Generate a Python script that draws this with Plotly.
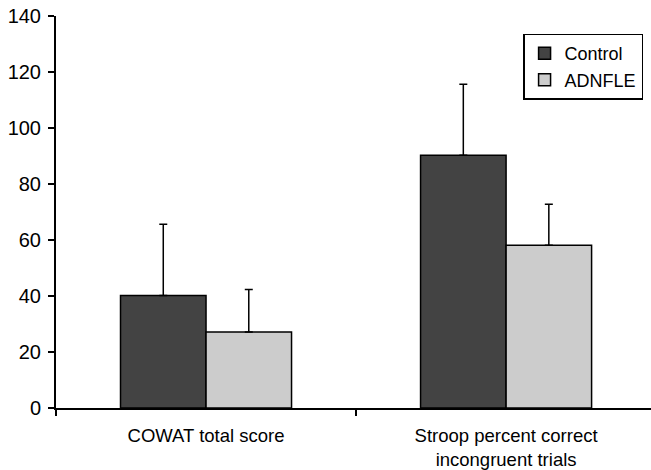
import plotly.graph_objects as go

categories = ["COWAT total score", "Stroop percent correct<br>incongruent trials"]
control_vals = [40.2, 90.3]
control_err = [25.4, 25.3]
adnfle_vals = [27.1, 58.1]
adnfle_err = [15.2, 14.7]
y_ticks = [0, 20, 40, 60, 80, 100, 120, 140]

fig = go.Figure()
fig.add_trace(go.Bar(
    name="Control", x=categories, y=control_vals,
    marker=dict(color="#434343", line=dict(color="black", width=1.5)),
    error_y=dict(type="data", array=control_err, arrayminus=[0, 0], symmetric=False,
                 color="black", thickness=1.5, width=4),
))
fig.add_trace(go.Bar(
    name="ADNFLE", x=categories, y=adnfle_vals,
    marker=dict(color="#cccccc", line=dict(color="black", width=1.5)),
    error_y=dict(type="data", array=adnfle_err, arrayminus=[0, 0], symmetric=False,
                 color="black", thickness=1.5, width=4),
))

fig.update_layout(
    width=651, height=470,
    margin=dict(l=56, r=0, t=16, b=62, autoexpand=False),
    paper_bgcolor="white", plot_bgcolor="white",
    barmode="group", bargap=0.43, bargroupgap=0,
    font=dict(family="Liberation Sans, Arial, sans-serif", color="black", size=19),
    showlegend=True,
    legend=dict(x=0.785, y=0.955, xanchor="left", yanchor="top",
                bgcolor="white", bordercolor="black", borderwidth=1.5,
                font=dict(size=18), tracegroupgap=0, itemwidth=30),
)
fig.update_xaxes(
    range=[-0.5, 1.483], showline=True, linecolor="black", linewidth=2,
    ticks="outside", tickson="boundaries", ticklen=6, tickwidth=2, tickcolor="black",
    showgrid=False, zeroline=False, tickfont=dict(size=18.5), automargin=False,
    ticklabelstandoff=10,
)
fig.update_yaxes(
    range=[0, 140], tickvals=y_ticks, showline=True, linecolor="black", linewidth=2,
    ticks="outside", ticklen=6, tickwidth=2, tickcolor="black",
    showgrid=False, zeroline=False, tickfont=dict(size=20), automargin=False,
    ticklabeloverflow="allow", ticklabelstandoff=3,
)

# remove the default 8px body margin so the figure fills the window exactly
fig.write_html("out.html", config={"displayModeBar": False},
               post_script="document.body.style.margin='0';")
